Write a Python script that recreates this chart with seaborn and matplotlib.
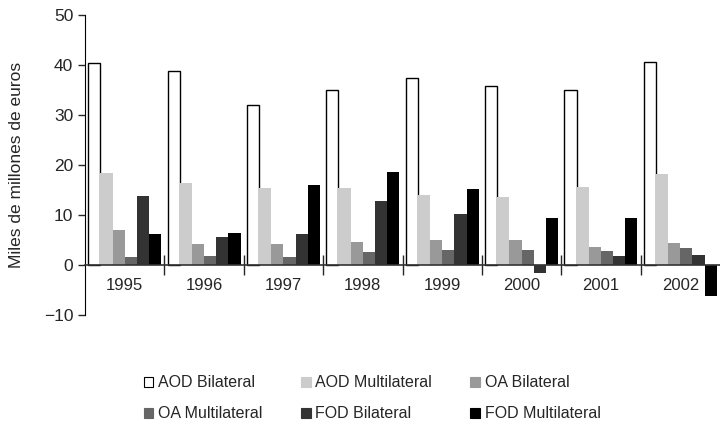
import seaborn as sns
import matplotlib.pyplot as plt
import pandas as pd
from matplotlib.patches import Patch

years = ['1995', '1996', '1997', '1998', '1999', '2000', '2001', '2002']
series = ['AOD Bilateral', 'AOD Multilateral', 'OA Bilateral',
          'OA Multilateral', 'FOD Bilateral', 'FOD Multilateral']

aod_bil = [40.4, 38.9, 32.1, 35.1, 37.4, 35.9, 35.0, 40.7]
aod_multi = [18.5, 16.5, 15.5, 15.5, 14.1, 13.7, 15.7, 18.3]
oa_bil = [7.1, 4.2, 4.2, 4.6, 5.0, 5.0, 3.6, 4.4]
oa_multi = [1.6, 1.8, 1.6, 2.6, 3.0, 3.0, 2.8, 3.4]
fod_bil = [13.9, 5.6, 6.3, 12.9, 10.3, -1.5, 1.8, 2.0]
fod_multi = [6.2, 6.5, 16.1, 18.7, 15.3, 9.5, 9.5, -6.1]

colors = ['#ffffff', '#cccccc', '#999999', '#666666', '#333333', '#000000']

rows = []
for name, vals in zip(series, [aod_bil, aod_multi, oa_bil, oa_multi, fod_bil, fod_multi]):
    for y, v in zip(years, vals):
        rows.append({'year': y, 'serie': name, 'value': v})
df = pd.DataFrame(rows)

sns.set_style('white')
plt.rcParams['font.family'] = ['Liberation Sans', 'DejaVu Sans']

fig = plt.figure(figsize=(7.2, 4.28), dpi=100)
ax = fig.add_axes([85 / 720, 1 - 315 / 428, 635 / 720, 300 / 428])

sns.barplot(data=df, x='year', y='value', hue='serie', palette=colors,
            width=0.92, gap=0, saturation=1, linewidth=0, ax=ax, legend=False)

# white bars get a black outline
for bar in ax.containers[0]:
    bar.set_edgecolor('black')
    bar.set_linewidth(1.0)

ax.set_ylim(-10, 50)
ax.set_xlim(-0.5, 7.5)
ax.set_yticks(range(-10, 51, 10))
ax.set_xlabel('')
ax.set_ylabel('Miles de millones de euros', fontsize=12.5, labelpad=14)

for s in ['top', 'right']:
    ax.spines[s].set_visible(False)
ax.spines['left'].set_color('black')
ax.spines['bottom'].set_color('#333333')
ax.spines['bottom'].set_position(('data', 0))
ax.spines['bottom'].set_linewidth(1.2)

ax.tick_params(axis='y', direction='out', length=5, width=1, labelsize=12.5, left=True)
ax.tick_params(axis='x', which='major', length=0, labelsize=12, pad=9)
ax.set_xticks([i + 0.5 for i in range(7)], minor=True)
ax.tick_params(axis='x', which='minor', direction='inout', length=14, width=1, bottom=True)

handles = [Patch(facecolor=c, edgecolor='black' if c == '#ffffff' else c, linewidth=0.8)
           for c in colors]
order = [0, 3, 1, 4, 2, 5]
fig.legend([handles[i] for i in order], [series[i] for i in order],
           ncol=3, loc='lower center', bbox_to_anchor=(0.517, -0.018),
           frameon=False, fontsize=11.5, handlelength=0.6, handleheight=0.6,
           handletextpad=0.3, columnspacing=2.4, labelspacing=1.0)

fig.savefig('out.png', dpi=100)
